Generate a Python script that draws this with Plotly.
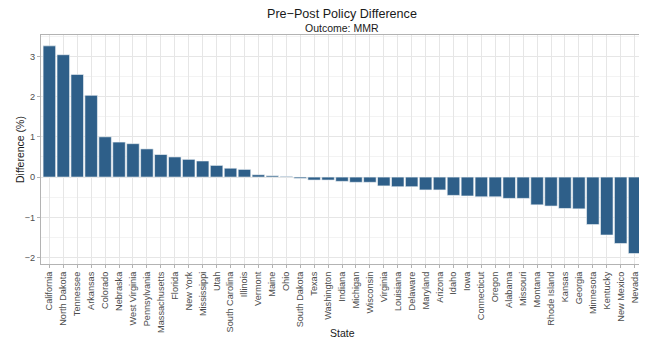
import plotly.graph_objects as go

states = ["California", "North Dakota", "Tennessee", "Arkansas", "Colorado", "Nebraska",
          "West Virginia", "Pennsylvania", "Massachusetts", "Florida", "New York", "Mississippi",
          "Utah", "South Carolina", "Illinois", "Vermont", "Maine", "Ohio", "South Dakota",
          "Texas", "Washington", "Indiana", "Michigan", "Wisconsin", "Virginia", "Louisiana",
          "Delaware", "Maryland", "Arizona", "Idaho", "Iowa", "Connecticut", "Oregon",
          "Alabama", "Missouri", "Montana", "Rhode Island", "Kansas", "Georgia", "Minnesota",
          "Kentucky", "New Mexico", "Nevada"]
difference = [3.26, 3.04, 2.55, 2.03, 1.00, 0.87, 0.83, 0.70, 0.56, 0.50, 0.44, 0.40,
              0.29, 0.22, 0.19, 0.058, 0.033, 0.017, -0.033, -0.074, -0.074, -0.107, -0.13,
              -0.13, -0.22, -0.24, -0.24, -0.32, -0.32, -0.455, -0.47, -0.49, -0.49, -0.53,
              -0.53, -0.69, -0.72, -0.78, -0.79, -1.18, -1.44, -1.65, -1.90]
y_ticks = [-2, -1, 0, 1, 2, 3]

FONT = "Liberation Sans, Arial, sans-serif"
BORDER = "#B3B3B3"
GRID = "#E6E6E6"
MINOR = "#F3F3F3"

# The page body adds an 8px offset; the figure is sized/placed to compensate.
OFF = 8
W, H = 647 - OFF, 341 - OFF
L, R, T, B = 41 - OFF, 4, 35 - OFF, 341 - 264
PW, PH = W - L - R, H - T - B


def py(p):  # window pixel y -> paper y
    return ((264 - OFF) - (p - OFF)) / PH


def px(p):  # window pixel x -> paper x
    return (p - 41) / PW


fig = go.Figure(go.Bar(
    x=states, y=difference,
    marker=dict(color="#2E5F89", line=dict(color="#F4F6F8", width=0.6)),
    width=0.9,
))

fig.update_layout(
    width=W, height=H,
    margin=dict(l=L, r=R, t=T, b=B, autoexpand=False),
    paper_bgcolor="white", plot_bgcolor="white",
    showlegend=False,
    font=dict(family=FONT, color="#4D4D4D"),
    annotations=[
        dict(text="Pre\u2212Post Policy Difference", x=px(342), y=py(14),
             xref="paper", yref="paper", showarrow=False, xanchor="center", yanchor="middle",
             font=dict(size=12.6, color="#1A1A1A", family=FONT)),
        dict(text="Outcome: MMR", x=px(342), y=py(27.5),
             xref="paper", yref="paper", showarrow=False, xanchor="center", yanchor="middle",
             font=dict(size=10.5, color="#1A1A1A", family=FONT)),
        dict(text="State", x=px(342), y=py(333),
             xref="paper", yref="paper", showarrow=False, xanchor="center", yanchor="middle",
             font=dict(size=10.5, color="#1A1A1A", family=FONT)),
        dict(text="Difference (%)", x=px(20), y=py(150),
             xref="paper", yref="paper", showarrow=False, xanchor="center", yanchor="middle",
             textangle=-90, font=dict(size=10.5, color="#1A1A1A", family=FONT)),
    ],
)

fig.update_xaxes(
    type="category", range=[-0.6, len(states) - 0.4], automargin=False,
    tickangle=-90, tickfont=dict(size=9.2, color="#4D4D4D", family=FONT),
    ticks="outside", ticklen=3, tickcolor=BORDER, tickwidth=0.8,
    showgrid=True, gridcolor=GRID, gridwidth=0.8,
    showline=True, mirror=True, linecolor=BORDER, linewidth=1,
    zeroline=False,
)

fig.update_yaxes(
    range=[-2.16, 3.53], automargin=False,
    tickvals=y_ticks, ticktext=[("\u2212" + str(-v)) if v < 0 else str(v) for v in y_ticks],
    tickfont=dict(size=9.2, color="#4D4D4D", family=FONT),
    ticks="outside", ticklen=3, tickcolor=BORDER, tickwidth=0.8,
    showgrid=True, gridcolor=GRID, gridwidth=0.8,
    minor=dict(tickvals=[-1.5, -0.5, 0.5, 1.5, 2.5, 3.5], showgrid=True,
               gridcolor=MINOR, gridwidth=0.5, ticks=""),
    showline=True, mirror=True, linecolor=BORDER, linewidth=1,
    zeroline=False,
)

fig.write_html("out.html")
